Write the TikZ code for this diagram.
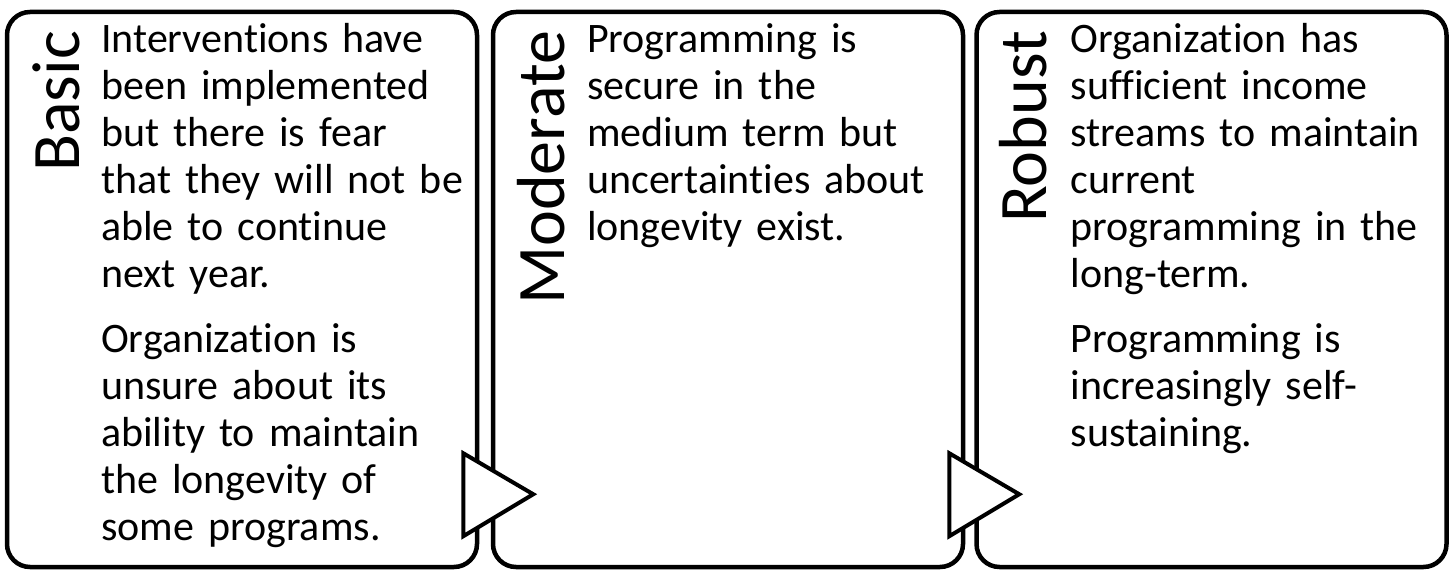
\documentclass[tikz,border=0pt]{standalone}
\usepackage{fontspec}
\setmainfont{Carlito}[Ligatures=NoCommon]
\usetikzlibrary{positioning, calc}

\begin{document}
\begin{tikzpicture}[
        x=0.5pt, y=-0.5pt,
        stagebox/.style={
            rectangle,
            draw,
            line width=2.25pt,
            rounded corners=11.5pt,
            fill=white,
            minimum width=235pt,
            minimum height=277.5pt,
            inner sep=0pt
        },
        stagetitle/.style={
            rotate=90,
            anchor=base east,
            inner sep=0pt,
            font=\fontsize{34}{40}\selectfont
        },
        stagetext/.style={
            anchor=base west,
            inner sep=0pt,
            text width=185pt,
            align=left,
            font=\fontsize{21}{23.5}\selectfont
        },
        stagearrow/.style={
            draw,
            line width=2pt,
            fill=white,
            line join=miter
        }
    ]

        \useasboundingbox (0,0) rectangle (1455,572);

        % Stage boxes
        \node[stagebox] (basic) at (242, 289.5) {};
        \node[stagebox] (moderate) at (728, 289.5) {};
        \node[stagebox] (robust) at (1211.5, 289.5) {};

        % Rotated headings
        \node[stagetitle] (basicT) at ($(basic.north west)+(75,21)$) {Basic};
        \node[stagetitle] (moderateT) at ($(moderate.north west)+(74,21)$) {Moderate};
        \node[stagetitle] (robustT) at ($(robust.north west)+(72,21)$) {Robust};

        % Descriptions
        \node[stagetext] (basicD) at ($(basic.north west)+(96,43)$) {%
            Interventions have\\ been implemented\\ but there is fear\\
            that they will not be\\ able to continue\\ next year.\\[9pt]
            Organization is\\ unsure about its\\ ability to maintain\\
            the longevity of\\ some programs.};
        \node[stagetext] (moderateD) at ($(moderate.north west)+(96,43)$) {%
            Programming is\\ secure in the\\ medium term but\\
            uncertainties about\\ longevity exist.};
        \node[stagetext] (robustD) at ($(robust.north west)+(96,43)$) {%
            Organization has\\ sufficient income\\ streams to maintain\\
            current\\ programming in the\\ long-term.\\[9pt]
            Programming is\\ increasingly self-\\ sustaining.};

        % Arrow heads between the stages
        \draw[stagearrow] ($(basic.south east)+(-16,-116)$)
            -- ($(basic.south east)+(54,-75)$)
            -- ($(basic.south east)+(-16,-33)$) -- cycle;
        \draw[stagearrow] ($(moderate.south east)+(-16,-116)$)
            -- ($(moderate.south east)+(54,-75)$)
            -- ($(moderate.south east)+(-16,-33)$) -- cycle;

    \end{tikzpicture}
\end{document}
